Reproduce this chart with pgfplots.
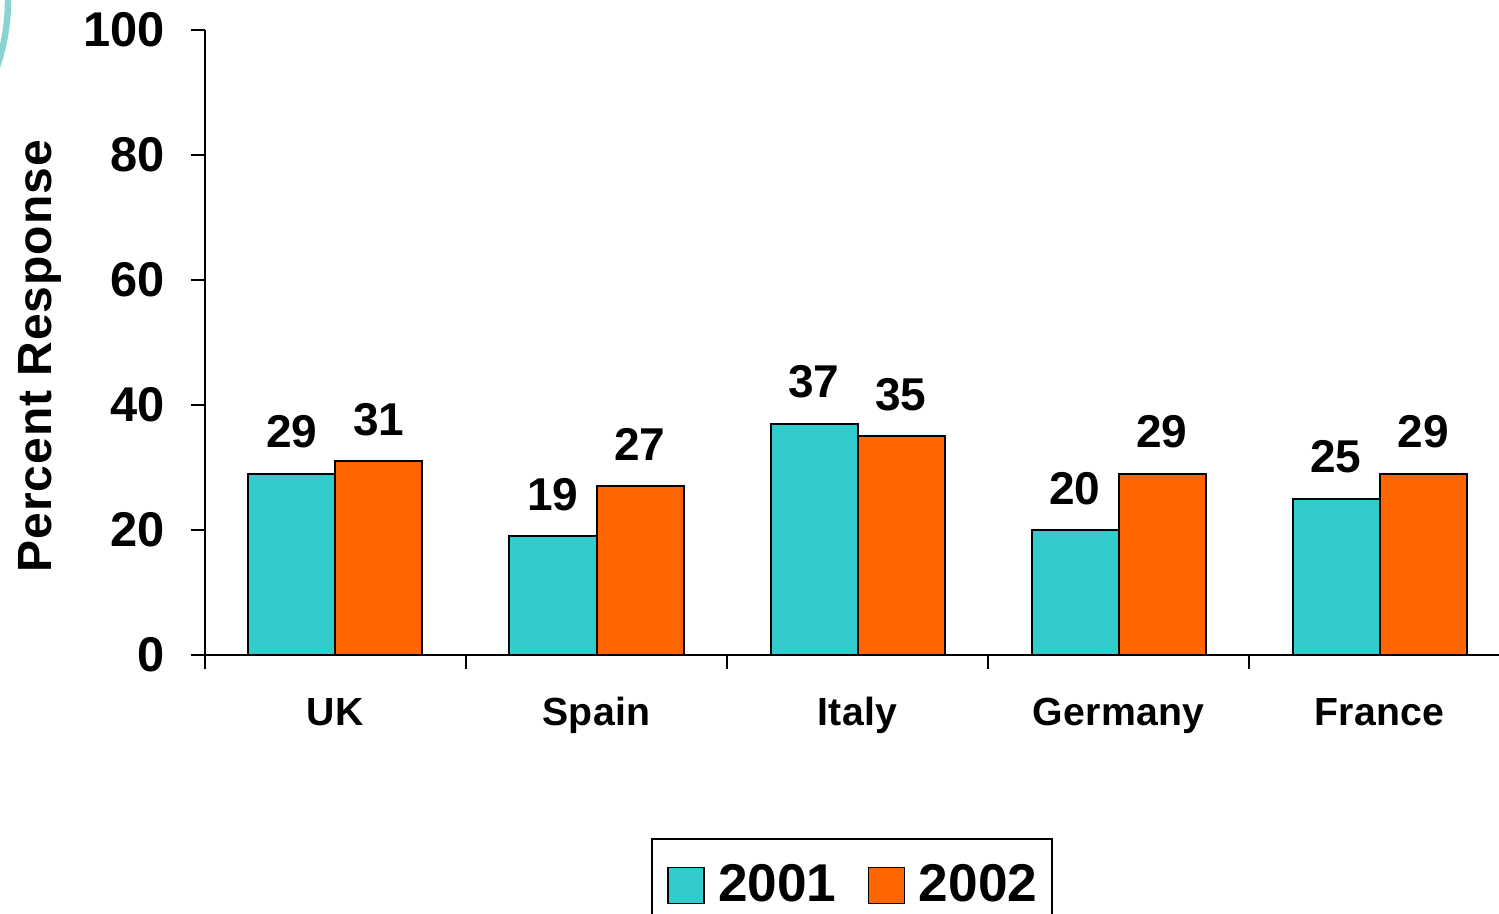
\documentclass[border=0pt]{standalone}
\usepackage{fontspec}
\setmainfont{Liberation Sans}
\usepackage{pgfplots}
\pgfplotsset{compat=1.18}
\definecolor{tealbar}{HTML}{33CCCC}
\definecolor{orangebar}{HTML}{FF6600}
\definecolor{arcteal}{HTML}{8AD3D3}

\begin{document}
\begin{tikzpicture}[x=1pt,y=1pt]
% scale: 1 px of the reference = 0.25 pt
\begin{axis}[
    at={(51.25pt,64.5pt)}, anchor=south west,
    scale only axis,
    width=326.25pt, height=156.25pt,
    ybar=0pt, bar width=21.75pt,
    xmin=-0.5, xmax=4.5,
    ymin=0, ymax=100,
    ytick={0,20,...,100},
    xtick={0,1,2,3,4},
    xticklabels={UK,Spain,Italy,Germany,France},
    minor xtick={-0.5,0.5,1.5,2.5,3.5},
    major x tick style={draw=none},
    tick align=outside,
    major tick length=3.5pt, minor tick length=3.5pt,
    tick style={black, line width=0.5pt},
    axis x line*=bottom, axis y line*=left,
    axis line style={-, line width=0.5pt},
    /pgf/number format/assume math mode=true,
    yticklabel style={font=\fontsize{12.2}{13}\selectfont\bfseries, xshift=-3pt},
    xticklabel style={font=\fontsize{9.8}{11}\selectfont\bfseries\addfontfeatures{LetterSpace=1},
        text height=7.3pt, text depth=2.1pt, yshift=-3.25pt},
    ylabel={Percent Response},
    every axis y label/.style={at={(axis description cs:-0.1265,0.478)}, rotate=90, anchor=center,
        font=\fontsize{12}{13}\selectfont\bfseries\addfontfeatures{LetterSpace=2}},
    nodes near coords,
    every node near coord/.append style={font=\fontsize{11.5}{12}\selectfont\bfseries, yshift=2.75pt},
    legend columns=2,
    legend style={at={(0.4958,-0.2928)}, anchor=north, draw=black, line width=0.4pt,
        font=\fontsize{13.3}{14}\selectfont\bfseries, inner xsep=1.75pt, inner ysep=4.3pt,
        /tikz/every even column/.append style={column sep=3.75pt}},
    legend image code/.code={\draw[#1, draw=black, line width=0.4pt] (0pt,-4.5pt) rectangle (9pt,4.5pt);
        \path[draw=none, fill=none] (-2.25pt,0pt) rectangle (10.6pt,0.1pt);},
]
\addplot[fill=tealbar, draw=black, line width=0.5pt] coordinates {(0,29) (1,19) (2,37) (3,20) (4,25)};
\addplot[fill=orangebar, draw=black, line width=0.5pt] coordinates {(0,31) (1,27) (2,35) (3,29) (4,29)};
\legend{2001,2002}
\end{axis}
\draw[arcteal, line width=1.6pt] (-50,228.25) circle (52);
\pgfresetboundingbox
\useasboundingbox (0,0) rectangle (374.75,228.25);
\end{tikzpicture}
\end{document}
